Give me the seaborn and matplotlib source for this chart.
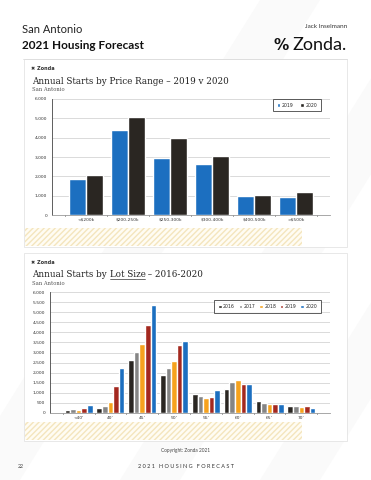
import matplotlib
matplotlib.use("Agg")
import matplotlib.pyplot as plt
import pandas as pd
import seaborn as sns
from matplotlib.patches import Rectangle, Polygon
from matplotlib.ticker import FuncFormatter, MultipleLocator

# ---- data ----
price_ranges = ["<$200k", "$200-250k", "$250-300k", "$300-400k", "$400-500k", ">$500k"]
starts_2019 = [1880, 4420, 2960, 2630, 970, 930]
starts_2020 = [2050, 5070, 3990, 3040, 1050, 1170]

lot_sizes = ["<40'", "40'", "45'", "50'", "55'", "60'", "65'", "70'"]
lot_years = ["2016", "2017", "2018", "2019", "2020"]
lot_2016 = [150, 250, 2640, 1900, 930, 1210, 610, 360]
lot_2017 = [180, 360, 3020, 2240, 850, 1560, 520, 360]
lot_2018 = [170, 560, 3420, 2560, 760, 1620, 450, 320]
lot_2019 = [240, 1350, 4380, 3380, 800, 1460, 460, 360]
lot_2020 = [400, 2250, 5340, 3560, 1160, 1420, 460, 230]

price_colors = ["#1c6fc0", "#2a2622"]
lot_colors = ["#2a2622", "#858585", "#f6a21d", "#a3281f", "#1c6fc0"]

sns.set_theme(style="white")
plt.rcParams["font.family"] = ["DejaVu Sans"]

W, H = 371, 480
fig = plt.figure(figsize=(W / 100, H / 100), dpi=100)
fig.patch.set_facecolor("white")


def fx(x):
    return x / W


def fy(y):
    return 1 - y / H


# faint diagonal stripes in the page background
for x0 in [-40, 120, 260]:
    fig.patches.append(Polygon([(fx(x0), fy(480)), (fx(x0 + 60), fy(480)),
                                (fx(x0 + 60 + 300), fy(0)), (fx(x0 + 300), fy(0))],
                               closed=True, transform=fig.transFigure,
                               facecolor="#fafafa", edgecolor="none", zorder=0))

# ---- header ----
fig.text(fx(22), fy(33), "San Antonio", fontsize=8, family="Lato", color="#222222")
fig.text(fx(22), fy(49), "2021 Housing Forecast", fontsize=8.5, family="Lato",
         weight="bold", color="#111111")
fig.text(fx(347), fy(28), "Jack Inselmann", fontsize=4.6, family="Lato",
         color="#333333", ha="right")
fig.text(fx(347), fy(50), "Zonda.", fontsize=13, family="Lato", color="#111111",
         ha="right")
fig.text(fx(289), fy(50), "%", fontsize=11, family="DejaVu Sans", weight="bold",
         color="#111111", ha="right")
fig.add_artist(plt.Line2D([fx(23), fx(347)], [fy(59), fy(59)], color="#dddddd",
                          lw=0.6, transform=fig.transFigure))


def card(top, bottom, hatch_top):
    fig.patches.append(Rectangle((fx(24), fy(bottom)), fx(347) - fx(24), fy(top) - fy(bottom),
                                 transform=fig.transFigure, facecolor="white",
                                 edgecolor="#e4e4e4", lw=0.6, zorder=1))
    fig.patches.append(Rectangle((fx(25), fy(bottom - 1)), fx(302) - fx(25),
                                 fy(hatch_top) - fy(bottom - 1),
                                 transform=fig.transFigure, facecolor="#fffcf3",
                                 edgecolor="#f4e5bd", hatch="//////", lw=0, zorder=2))
    fig.text(fx(31), fy(top + 11), "\u2716 Zonda", fontsize=3.6, weight="bold",
             color="#333333", zorder=3)


def style_axis(ax, step):
    ax.set_facecolor("white")
    ax.set_xlabel("")
    ax.set_ylabel("")
    ax.set_ylim(0, 6000)
    ax.yaxis.set_major_locator(MultipleLocator(step))
    ax.yaxis.set_major_formatter(FuncFormatter(lambda v, p: f"{int(v):,}"))
    ax.yaxis.grid(True, color="#d4d4d4", lw=0.6)
    ax.set_axisbelow(True)
    for s in ["top", "right"]:
        ax.spines[s].set_visible(False)
    ax.spines["left"].set_color("#444444")
    ax.spines["left"].set_linewidth(0.6)
    ax.spines["bottom"].set_color("#999999")
    ax.spines["bottom"].set_linewidth(0.6)
    ax.tick_params(axis="both", labelsize=3.2, colors="#333333", length=0, pad=2)
    ax.tick_params(axis="y", length=1.5, width=0.5, color="#444444")
    n = len(ax.get_xticks())
    for i in range(n + 1):
        ax.plot([i - 0.5, i - 0.5], [0, -60], color="#555555", lw=0.5, clip_on=False)


def boxed_legend(ax, anchor, ncol, spacing):
    leg = ax.legend(loc="upper right", bbox_to_anchor=anchor, ncol=ncol, fontsize=3.3,
                    handlelength=0.8, handleheight=0.8, handletextpad=0.3,
                    columnspacing=spacing, frameon=True, fancybox=False, borderpad=0.8)
    leg.get_frame().set_edgecolor("#333333")
    leg.get_frame().set_linewidth(0.7)


# ---- chart 1: price range ----
card(59, 247, 228)
fig.text(fx(32), fy(84), "Annual Starts by Price Range \u2013 2019 v 2020", fontsize=6.3,
         family="DejaVu Serif", color="#222222", zorder=3)
fig.text(fx(32), fy(91), "San Antonio", fontsize=3.8, family="DejaVu Serif",
         color="#555555", zorder=3)

df1 = pd.DataFrame({
    "range": price_ranges * 2,
    "year": ["2019"] * len(price_ranges) + ["2020"] * len(price_ranges),
    "starts": starts_2019 + starts_2020,
})
ax1 = fig.add_axes([fx(52), fy(215), fx(330) - fx(52), fy(99) - fy(215)], zorder=4)
sns.barplot(data=df1, x="range", y="starts", hue="year", palette=price_colors,
            saturation=1, width=0.8, errorbar=None, ax=ax1)
style_axis(ax1, 1000)
boxed_legend(ax1, (0.975, 1.02), 2, 1.5)

# ---- chart 2: lot size ----
card(253, 441, 422)
r = fig.canvas.get_renderer()
t1 = fig.text(fx(32), fy(277), "Annual Starts by ", fontsize=6.3, family="DejaVu Serif",
              color="#222222", zorder=3)
bb = t1.get_window_extent(r).transformed(fig.transFigure.inverted())
t2 = fig.text(bb.x1, fy(277), "Lot Size", fontsize=6.3, family="DejaVu Serif",
              color="#222222", zorder=3)
bb2 = t2.get_window_extent(r).transformed(fig.transFigure.inverted())
fig.add_artist(plt.Line2D([bb2.x0, bb2.x1], [fy(279), fy(279)], color="#333333", lw=0.5,
                          transform=fig.transFigure, zorder=3))
fig.text(bb2.x1, fy(277), " \u2013 2016-2020", fontsize=6.3, family="DejaVu Serif",
         color="#222222", zorder=3)
fig.text(fx(32), fy(285), "San Antonio", fontsize=3.8, family="DejaVu Serif",
         color="#555555", zorder=3)

lot_values = [lot_2016, lot_2017, lot_2018, lot_2019, lot_2020]
df2 = pd.DataFrame({
    "lot": lot_sizes * len(lot_years),
    "year": [y for y in lot_years for _ in lot_sizes],
    "starts": [v for vals in lot_values for v in vals],
})
ax2 = fig.add_axes([fx(50), fy(413), fx(330) - fx(50), fy(292) - fy(413)], zorder=4)
sns.barplot(data=df2, x="lot", y="starts", hue="year", palette=lot_colors,
            saturation=1, width=0.88, errorbar=None, ax=ax2)
style_axis(ax2, 500)
boxed_legend(ax2, (0.975, 0.95), 5, 0.8)

# ---- footer ----
fig.text(fx(186), fy(452), "Copyright: Zonda 2021", fontsize=3.4, family="Lato",
         color="#444444", ha="center")
fig.text(fx(18), fy(468), "22", fontsize=3.8, family="Lato", color="#444444")
fig.text(fx(186), fy(468), "2 0 2 1   H O U S I N G   F O R E C A S T", fontsize=4,
         family="Lato", color="#333333", ha="center")

fig.savefig("out.png", dpi=100)
